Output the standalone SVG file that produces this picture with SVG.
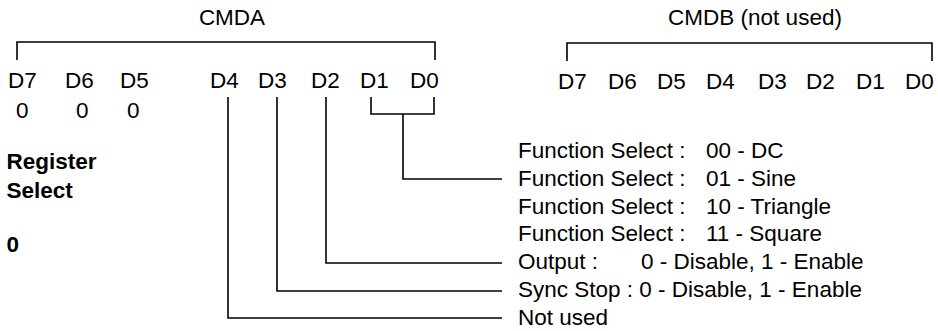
<svg xmlns="http://www.w3.org/2000/svg" width="938" height="331" viewBox="0 0 938 331">
<style>
text{font-family:"Liberation Sans",Arial,sans-serif;font-size:22.5px;fill:#000}
.b{font-weight:bold}
.ln{fill:none;stroke:#000;stroke-width:1.6}
</style>
<rect width="938" height="331" fill="#fff"/>
<g id="cmda">
<text x="232" y="25" text-anchor="middle">CMDA</text>
<path class="ln" d="M17,60V42H435V60"/>
<text x="8" y="88">D7</text>
<text x="65" y="88">D6</text>
<text x="120" y="88">D5</text>
<text x="210" y="88">D4</text>
<text x="258" y="88">D3</text>
<text x="311" y="88">D2</text>
<text x="360" y="88">D1</text>
<text x="410" y="88">D0</text>
<text x="16" y="118">0</text>
<text x="76" y="118">0</text>
<text x="127" y="118">0</text>
</g>
<g id="register-select">
<text class="b" x="6.5" y="169">Register</text>
<text class="b" x="6.5" y="198">Select</text>
<text class="b" x="6.5" y="252">0</text>
</g>
<g id="cmdb">
<text x="755" y="25" text-anchor="middle">CMDB (not used)</text>
<path class="ln" d="M567,61V43H932V61"/>
<text x="558" y="89">D7</text>
<text x="608" y="89">D6</text>
<text x="657" y="89">D5</text>
<text x="706" y="89">D4</text>
<text x="758" y="89">D3</text>
<text x="806" y="89">D2</text>
<text x="856" y="89">D1</text>
<text x="905" y="89">D0</text>
</g>
<g id="connectors">
<path class="ln" d="M371,97V114H434V97M403,114V179H502"/>
<path class="ln" d="M326,97V263H502"/>
<path class="ln" d="M277,97V291H502"/>
<path class="ln" d="M228,97V318H502"/>
</g>
<g id="labels">
<text x="518" y="158">Function Select :<tspan x="706">00 - DC</tspan></text>
<text x="518" y="186">Function Select :<tspan x="706">01 - Sine</tspan></text>
<text x="518" y="213.5">Function Select :<tspan x="706">10 - Triangle</tspan></text>
<text x="518" y="241">Function Select :<tspan x="706">11 - Square</tspan></text>
<text x="518" y="269">Output :<tspan x="641">0 - Disable, 1 - Enable</tspan></text>
<text x="518" y="297">Sync Stop : 0 - Disable, 1 - Enable</text>
<text x="518" y="324.5">Not used</text>
</g>
</svg>
